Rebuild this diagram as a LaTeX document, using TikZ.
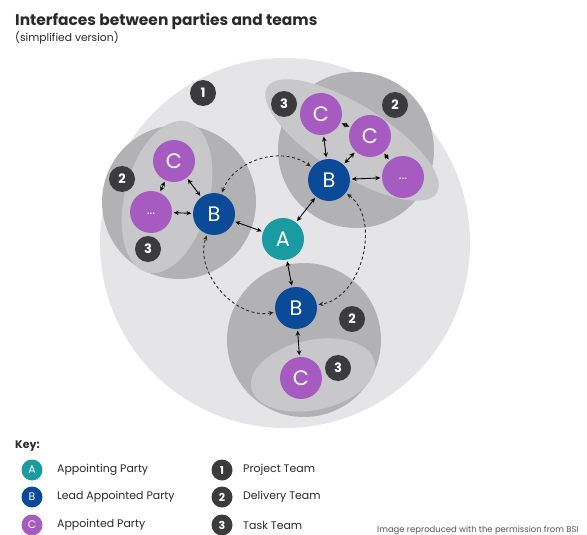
\documentclass[tikz,border=0pt]{standalone}
\usepackage{fontspec}
\setmainfont{Poppins}
\usetikzlibrary{arrows.meta}

\definecolor{projgray}{HTML}{E5E5E7}
\definecolor{delivgray}{HTML}{B2B2B4}
\definecolor{taskgray}{HTML}{C8C8CA}
\definecolor{teamA}{HTML}{1A9BA1}
\definecolor{teamB}{HTML}{0B4A96}
\definecolor{teamC}{HTML}{A65BC1}
\definecolor{badgegray}{HTML}{3B3B3D}
\definecolor{ink}{HTML}{2A2A2A}

\begin{document}
\begin{tikzpicture}[x=1bp,y=1bp,
  party/.style={circle,minimum size=42bp,inner sep=0pt,text=white,
    font=\fontsize{21}{21}\selectfont},
  partyA/.style={party,fill=teamA},
  partyB/.style={party,fill=teamB},
  partyC/.style={party,fill=teamC},
  badge/.style={circle,fill=badgegray,minimum size=26bp,inner sep=0pt,text=white,
    font=\bfseries\fontsize{13}{13}\selectfont},
  legdot/.style={circle,minimum size=21bp,inner sep=0pt,text=white,
    font=\fontsize{11}{11}\selectfont},
  legbadge/.style={legdot,fill=badgegray,font=\bfseries\fontsize{11}{11}\selectfont},
  legtext/.style={anchor=west,inner sep=0pt,text=ink,font=\fontsize{11}{11}\selectfont},
  tip/.tip={Stealth[length=5bp,width=4.5bp]},
  link/.style={tip-tip,line width=0.9bp,draw=black,shorten <=1.5bp,shorten >=1.5bp},
  dashlink/.style={link,draw=ink,dash pattern=on 3bp off 2.5bp}
]
\useasboundingbox (0,0) rectangle (587,-535);
\fill[white] (0,0) rectangle (587,-535);

% heading
\node[anchor=base west,inner sep=0pt,text=ink,font=\bfseries\fontsize{15.5}{15.5}\selectfont]
  (title) at (15,-26) {Interfaces between parties and teams};
\node[anchor=base west,inner sep=0pt,text=ink,font=\fontsize{10.8}{10.8}\selectfont]
  (subtitle) at (15,-42) {(simplified version)};

% project team
\fill[projgray] (285,-243) circle[radius=185];

% delivery teams with their task teams
\fill[delivgray] (179,-202) circle[radius=77];
\fill[taskgray,rotate around={-15:(167,-197)}] (167,-197) ellipse[x radius=42,y radius=78];

\fill[delivgray] (356,-150) circle[radius=78];
\fill[taskgray,rotate around={-32:(352,-140)}] (352,-140) ellipse[x radius=100,y radius=35];

\fill[delivgray] (304,-340) circle[radius=77];
\fill[taskgray,rotate around={12:(313,-375)}] (313,-375) ellipse[x radius=63,y radius=35];

% parties
\node[partyA] (A) at (283,-239) {A};
\node[partyB] (Bl) at (214,-214) {B};
\node[partyB] (Bt) at (329,-180) {B};
\node[partyB] (Bb) at (296,-308) {B};
\node[partyC] (Cl) at (174,-161) {C};
\node[partyC] (Dl) at (151,-212) {\raisebox{-6bp}{\fontsize{13}{13}\selectfont...}};
\node[partyC] (Ct1) at (321,-114) {C};
\node[partyC] (Ct2) at (370,-136) {C};
\node[partyC] (Dt) at (403,-177) {\raisebox{-6bp}{\fontsize{13}{13}\selectfont...}};
\node[partyC] (Cb) at (301,-378) {C};

% team numbers
\node[badge] (n1) at (203,-93) {1};
\node[badge] (n2l) at (122,-179) {2};
\node[badge] (n3l) at (148,-249) {3};
\node[badge] (n3t) at (284,-104) {3};
\node[badge] (n2t) at (395,-105) {2};
\node[badge] (n2b) at (352,-319) {2};
\node[badge] (n3b) at (338,-368) {3};

% interfaces between the lead appointed parties
\draw[dashlink] (Bl) to[bend left=53] (Bt);
\draw[dashlink] (Bt) to[bend left=67] (Bb);
\draw[dashlink] (Bb) to[bend left=60] (Bl);

% direct interfaces
\draw[link] (Bl) -- (A);
\draw[link] (Bt) -- (A);
\draw[link] (A) -- (Bb);
\draw[link] (Cl) -- (Dl);
\draw[link] (Cl) -- (Bl);
\draw[link] (Dl) -- (Bl);
\draw[link] (Ct1) -- (Bt);
\draw[link] (Ct2) -- (Bt);
\draw[link] (Dt) -- (Bt);
\draw[link] (Ct1) -- (Ct2);
\draw[link] (Ct2) -- (Dt);
\draw[link] (Bb) -- (Cb);

% key
\node[anchor=base west,inner sep=0pt,text=ink,font=\bfseries\fontsize{11}{11}\selectfont]
  (key) at (15,-448) {Key:};
\node[legdot,fill=teamA] (kA) at (32,-470) {A};
\node[legdot,fill=teamB] (kB) at (32,-497) {B};
\node[legdot,fill=teamC] (kC) at (32,-525) {C};
\node[legtext] (tA) at (57,-470) {Appointing Party};
\node[legtext] (tB) at (57,-497) {Lead Appointed Party};
\node[legtext] (tC) at (57,-525) {Appointed Party};
\node[legbadge] (k1) at (222,-470) {1};
\node[legbadge] (k2) at (222,-497) {2};
\node[legbadge] (k3) at (222,-525) {3};
\node[legtext] (t1) at (243,-470) {Project Team};
\node[legtext] (t2) at (243,-497) {Delivery Team};
\node[legtext] (t3) at (243,-525) {Task Team};

% credit line
\node[anchor=north west,inner sep=0pt,text=ink!80,font=\fontsize{8.5}{8.5}\selectfont]
  (credit) at (377,-526) {Image reproduced with the permission from BSI};
\end{tikzpicture}
\end{document}
